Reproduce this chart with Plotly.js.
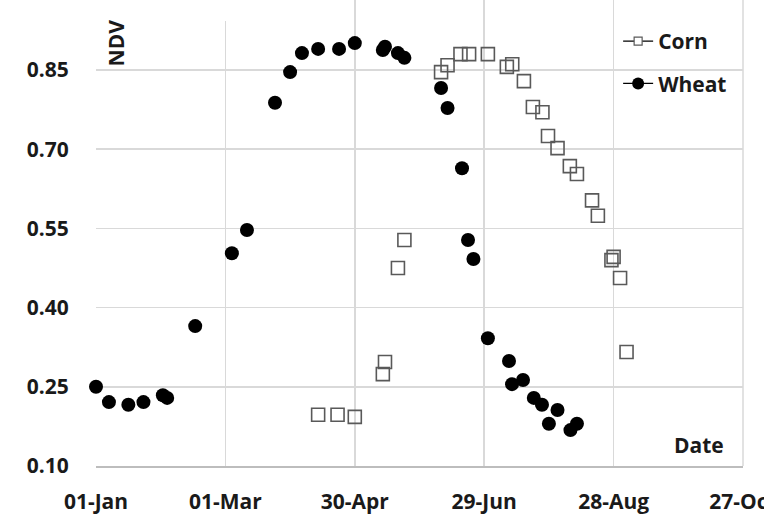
<!DOCTYPE html>
<html>
<head>
<meta charset="utf-8">
<script src="https://cdn.plot.ly/plotly-3.0.1.min.js"></script>
<style>html,body{margin:0;padding:0;background:#fff;}#chart{width:764px;height:514px;}</style>
</head>
<body>
<div id="chart"></div>
<script>
// Days counted from 01-Jan (leap year, so 60-day ticks fall on 01-Mar, 30-Apr ...)
var wheatDay  = [0, 6, 15, 22, 31, 33, 46, 63, 70, 83, 90, 95.5, 103, 112.7, 120, 133, 134, 140, 143, 160, 163, 169.7, 172.5, 175, 181.7, 191.5, 192.9, 198, 203, 206.8, 210, 214, 220, 223];
var wheatNDVI = [0.250, 0.221, 0.216, 0.221, 0.234, 0.229, 0.365, 0.503, 0.547, 0.788, 0.846, 0.882, 0.890, 0.890, 0.901, 0.888, 0.894, 0.882, 0.873, 0.816, 0.778, 0.664, 0.528, 0.492, 0.342, 0.299, 0.255, 0.263, 0.229, 0.216, 0.180, 0.206, 0.168, 0.180];
var cornDay  = [103, 112, 120, 133, 134, 140, 143, 160, 163, 169, 173, 181.7, 190.5, 193, 198.4, 202.6, 207, 209.6, 214, 219.7, 223, 230, 232.7, 239, 240, 243, 246];
var cornNDVI = [0.197, 0.197, 0.193, 0.274, 0.297, 0.475, 0.528, 0.846, 0.859, 0.880, 0.880, 0.880, 0.856, 0.861, 0.829, 0.780, 0.770, 0.725, 0.702, 0.668, 0.653, 0.603, 0.574, 0.490, 0.496, 0.456, 0.316];
var yTicks = [0.10, 0.25, 0.40, 0.55, 0.70, 0.85];
var seriesNames = ['Corn', 'Wheat'];

function dayToDate(d) {
  var ms = Date.UTC(2016, 0, 1) + Math.round(d * 24) * 3600e3;
  return new Date(ms).toISOString().slice(0, 19).replace('T', ' ');
}

var FONT = 'Open Sans, sans-serif';
var cornMarker = {symbol: 'square-open', color: '#595959', size: 13, line: {width: 1.6, color: '#595959'}};
var wheatMarker = {symbol: 'circle', color: '#000000', size: 14};

var traces = [
  {x: cornDay.map(dayToDate), y: cornNDVI, type: 'scatter', mode: 'markers', name: seriesNames[0],
   marker: cornMarker, showlegend: false, cliponaxis: false},
  {x: wheatDay.map(dayToDate), y: wheatNDVI, type: 'scatter', mode: 'markers', name: seriesNames[1],
   marker: wheatMarker, showlegend: false, cliponaxis: false},
  // legend entries (line + marker symbols)
  {x: [null], y: [null], type: 'scatter', mode: 'lines+markers', name: seriesNames[0], legendgroup: 'c',
   line: {color: '#000', width: 1.3},
   marker: {symbol: 'square', color: '#ffffff', size: 8, line: {width: 1.2, color: '#595959'}}},
  {x: [null], y: [null], type: 'scatter', mode: 'lines+markers', name: seriesNames[1], legendgroup: 'w',
   line: {color: '#000', width: 1.3},
   marker: {symbol: 'circle', color: '#000', size: 12}}
];

var layout = {
  width: 764, height: 514,
  margin: {l: 96, r: 21, t: 0, b: 48, pad: 0},
  paper_bgcolor: '#ffffff', plot_bgcolor: '#ffffff',
  font: {family: FONT, size: 21, color: '#1a1a1a', weight: 700},
  showlegend: true,
  legend: {x: 0.807, y: 0.955, xanchor: 'left', yanchor: 'top', bgcolor: 'rgba(0,0,0,0)',
           font: {family: FONT, size: 21, color: '#1a1a1a', weight: 700},
           traceorder: 'grouped', tracegroupgap: 12},
  xaxis: {
    type: 'date',
    range: ['2016-01-01', '2016-10-27'],
    tick0: '2016-01-01', dtick: 60 * 24 * 3600 * 1000,
    tickformat: '%d-%b',
    showgrid: true, gridcolor: '#d9d9d9', gridwidth: 1.5,
    showline: true, linecolor: '#bdbdbd', linewidth: 1.5,
    ticks: 'outside', ticklen: 16, tickcolor: 'rgba(0,0,0,0)',
    ticklabeloverflow: 'allow',
    tickfont: {family: FONT, size: 21, color: '#1a1a1a', weight: 700},
    automargin: false, zeroline: false, fixedrange: true
  },
  yaxis: {
    range: [0.10, 0.9826],
    tickvals: yTicks, tickformat: '.2f',
    showgrid: true, gridcolor: '#d9d9d9', gridwidth: 1.5,
    showline: false, zeroline: false,
    ticks: 'outside', ticklen: 22, tickcolor: 'rgba(0,0,0,0)',
    tickfont: {family: FONT, size: 21, color: '#1a1a1a', weight: 700},
    automargin: false, fixedrange: true
  },
  shapes: [
    {type: 'rect', xref: 'paper', yref: 'paper', x0: -0.02, x1: 0.3, y0: 0.955, y1: 1.01,
     fillcolor: '#ffffff', line: {width: 0}, layer: 'above'},
    {type: 'line', xref: 'paper', yref: 'paper', x0: 1, x1: 1, y0: 0, y1: 1,
     line: {color: '#d9d9d9', width: 1.5}, layer: 'below'}
  ],
  annotations: [
    {text: 'NDVI', xref: 'paper', yref: 'paper', x: 0.031, y: 0.907, xanchor: 'center', yanchor: 'middle',
     textangle: -90, showarrow: false, width: 47, align: 'left',
     font: {family: FONT, size: 21, color: '#1a1a1a', weight: 700}},
    {text: 'Date', xref: 'paper', yref: 'paper', x: 0.973, y: 0.045, xanchor: 'right', yanchor: 'middle',
     showarrow: false, font: {family: FONT, size: 21, color: '#1a1a1a', weight: 700}}
  ]
};

Plotly.newPlot('chart', traces, layout, {displayModeBar: false, staticPlot: true});
</script>
</body>
</html>
